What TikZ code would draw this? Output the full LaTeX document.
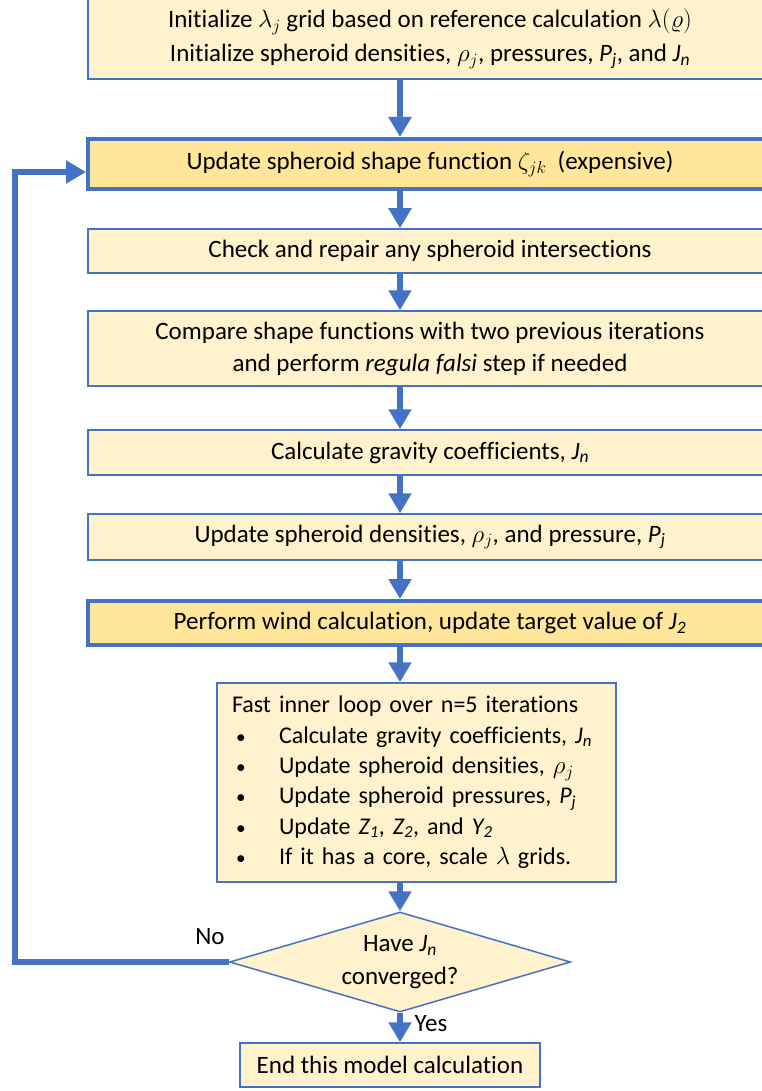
\documentclass[tikz,border=0pt]{standalone}
\usepackage{fontspec}
\setmainfont{Carlito}[Ligatures=NoCommon]
\usetikzlibrary{shapes.geometric,arrows.meta}
\definecolor{bblue}{HTML}{4472C4}
\definecolor{lfill}{HTML}{FFF2CC}
\definecolor{dfill}{HTML}{FFE699}
\newcommand{\itsub}[2]{\textit{#1\textsubscript{#2}}}
\newcommand{\mybul}{\hspace{4pt}\scalebox{0.8}{\textbullet}}
\begin{document}
\begin{tikzpicture}[x=1pt,y=-1pt,
  box/.style={draw=bblue, line width=1.5pt, fill=lfill, minimum width=684pt, inner sep=0pt, align=center, font=\fontsize{25}{34}\selectfont},
  hbox/.style={box, fill=dfill, line width=4pt},
  arr/.style={draw=bblue, line width=6pt, -{Triangle[length=20pt,width=22pt]}},
  lbl/.style={font=\fontsize{25}{30}\selectfont, inner sep=0pt}]
\useasboundingbox (0,0) rectangle (762,1091);
\clip (0,0) rectangle (762,1091);
\fill[white] (0,0) rectangle (762,1091);
\coordinate (col) at (400,0);
\coordinate (lx) at (15,0);

\node[box, minimum height=80pt] (b1) at (430,39)
  {Initialize $\lambda_j$ grid based on reference calculation $\lambda(\varrho)$\\
   Initialize spheroid densities, $\rho_j$, pressures, \itsub{P}{j}, and \itsub{J}{n}};
\node[hbox, minimum height=50pt] (b2) at (430,164)
  {Update spheroid shape function $\zeta_{jk}$\ \ (expensive)};
\node[box, minimum height=44pt] (b3) at (430,251)
  {Check and repair any spheroid intersections};
\node[box, minimum height=75pt, font=\fontsize{25}{32}\selectfont] (b4) at (430,348.5)
  {Compare shape functions with two previous iterations\\
   and perform \textit{regula falsi} step if needed};
\node[box, minimum height=45pt] (b5) at (430,452.5)
  {Calculate gravity coefficients, \itsub{J}{n}};
\node[box, minimum height=46pt] (b6) at (430,537)
  {Update spheroid densities, $\rho_j$, and pressure, \itsub{P}{j}};
\node[hbox, minimum height=44pt] (b7) at (430,623)
  {Perform wind calculation, update target value of \itsub{J}{2}};
\node[box, minimum width=399pt, minimum height=199pt, text width=369pt, inner xsep=15pt, align=left, font=\fontsize{24}{30.3}\selectfont] (b8) at (416.5,782.5)
  {\begin{tabular}{@{}p{47pt}@{}l@{}}
   \multicolumn{2}{@{}l@{}}{Fast inner loop over n=5 iterations}\\
   \mybul & Calculate gravity coefficients, \itsub{J}{n}\\
   \mybul & Update spheroid densities, $\rho_j$\\
   \mybul & Update spheroid pressures, \itsub{P}{j}\\
   \mybul & Update \itsub{Z}{1}, \itsub{Z}{2}, and \itsub{Y}{2}\\
   \mybul & If it has a core, scale $\lambda$ grids.
   \end{tabular}};
\node[diamond, draw=bblue, line width=1.5pt, fill=lfill, aspect=3.41, inner sep=0pt,
      minimum width=341pt, minimum height=100pt, align=center, font=\fontsize{25}{33}\selectfont] (d) at (400,962)
  {Have \itsub{J}{n}\\converged?};
\node[box, minimum width=300pt, minimum height=44pt] (e) at (390,1065)
  {End this model calculation};

\draw[arr] (b1.south -| col) -- (b2.north -| col);
\draw[arr] (b2.south -| col) -- (b3.north -| col);
\draw[arr] (b3.south -| col) -- (b4.north -| col);
\draw[arr] (b4.south -| col) -- (b5.north -| col);
\draw[arr] (b5.south -| col) -- (b6.north -| col);
\draw[arr] (b6.south -| col) -- (b7.north -| col);
\draw[arr] (b7.south -| col) -- (b8.north -| col);
\draw[arr] (b8.south -| col) -- (d.north);
\draw[arr] (d.south) -- (e.north -| d.south);
\draw[arr, line join=miter] (d.west) -- (d.west -| lx) |- ([yshift=-8pt]b2.west);

\node[lbl] (no) at (210,937) {No};
\node[lbl] (yes) at (431,1024) {Yes};
\end{tikzpicture}
\end{document}
